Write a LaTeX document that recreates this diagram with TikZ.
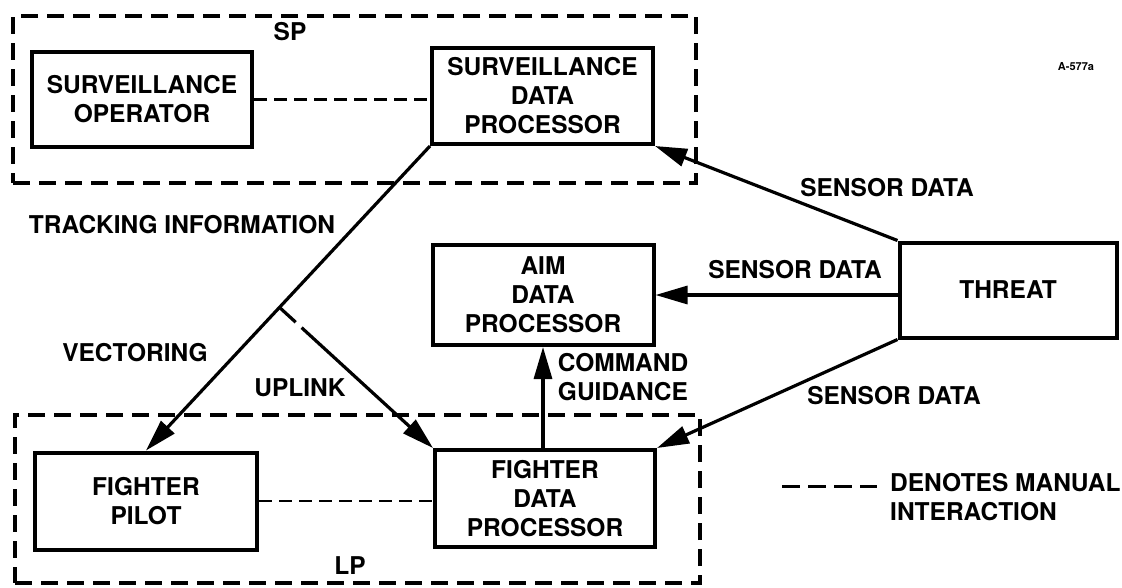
\documentclass[tikz,border=0pt]{standalone}
\usepackage{fontspec}
\setmainfont{TeX Gyre Heros}
\usetikzlibrary{arrows.meta,calc}

\newcommand{\lblfont}{\fontsize{24.5}{29}\selectfont\bfseries}

\tikzset{
  box/.style={draw, line width=4pt, align=center, inner sep=0pt, font=\lblfont},
  group/.style={draw, line width=4.5pt, dash pattern=on 17pt off 9pt, inner sep=0pt},
  manual/.style={line width=2.4pt, dash pattern=on 13pt off 7pt},
  flow/.style={line width=3.2pt, -{Triangle[length=32pt,width=18pt]}},
  lbl/.style={font=\lblfont, align=center, inner sep=0pt},
}

\begin{document}
\begin{tikzpicture}[x=1pt, y=-1pt]
  \useasboundingbox (0,0) rectangle (1122,587);

  % subsystem groupings
  \node[group, minimum width=683pt, minimum height=167pt] (SPbox) at (354.5,99.5) {};
  \node[group, minimum width=685pt, minimum height=168pt] (LPbox) at (357.5,499) {};
  \node[lbl] (SPlbl) at (290,32) {SP};
  \node[lbl] (LPlbl) at (350,566) {LP};

  % functional blocks
  \node[box, minimum width=220pt, minimum height=95pt] (SO) at (142,99.5) {SURVEILLANCE\\OPERATOR};
  \node[box, minimum width=221pt, minimum height=96pt] (SDP) at (542.5,96) {SURVEILLANCE\\DATA\\PROCESSOR};
  \node[box, minimum width=221pt, minimum height=100pt] (AIM) at (543,295) {AIM\\DATA\\PROCESSOR};
  \node[box, minimum width=217pt, minimum height=95pt] (TH) at (1008,290) {THREAT};
  \node[box, minimum width=222pt, minimum height=97pt] (FP) at (146,501) {FIGHTER\\PILOT};
  \node[box, minimum width=220pt, minimum height=97pt] (FDP) at (545,498.5) {FIGHTER\\DATA\\PROCESSOR};

  % manual interactions
  \draw[manual] (SO.east) -- (SO.east -| SDP.west);
  \draw[manual] (FP.east) -- (FP.east -| FDP.west);

  % tracking information / vectoring
  \draw[flow] (SDP.south west) -- (FP.north);
  \coordinate (J) at ($(SDP.south west)!0.53!(FP.north)$);
  \draw[flow, dash pattern=on 22pt off 8pt on 400pt] (J) -- (FDP.north west);

  % sensor data from the threat
  \draw[flow] (TH.north west) -- (SDP.south east);
  \draw[flow] (AIM.east -| TH.west) -- (AIM.east);
  \draw[flow] (TH.south west) -- (FDP.north east);

  % command guidance
  \draw[flow] (FDP.north -| AIM.south) -- (AIM.south);

  % connector labels
  \node[lbl] (trk) at (182,225) {TRACKING INFORMATION};
  \node[lbl] (vec) at (135,353) {VECTORING};
  \node[lbl] (upl) at (300,388) {UPLINK};
  \node[lbl] (cmd) at (623,377) {COMMAND\\GUIDANCE};
  \node[lbl] (sd1) at (887,188) {SENSOR DATA};
  \node[lbl] (sd2) at (795,270) {SENSOR DATA};
  \node[lbl] (sd3) at (894,396) {SENSOR DATA};

  % drawing number
  \node[font=\fontsize{11}{13}\selectfont\bfseries, inner sep=0pt] (num) at (1076,67) {A-577a};

  % legend
  \coordinate (lg1) at (782,486);
  \coordinate (lg2) at (877,486);
  \draw[line width=3pt, dash pattern=on 18pt off 8pt] (lg1) -- (lg2);
  \node[lbl, align=left, anchor=west] (lgt) at (890,497) {DENOTES MANUAL\\INTERACTION};
\end{tikzpicture}
\end{document}
